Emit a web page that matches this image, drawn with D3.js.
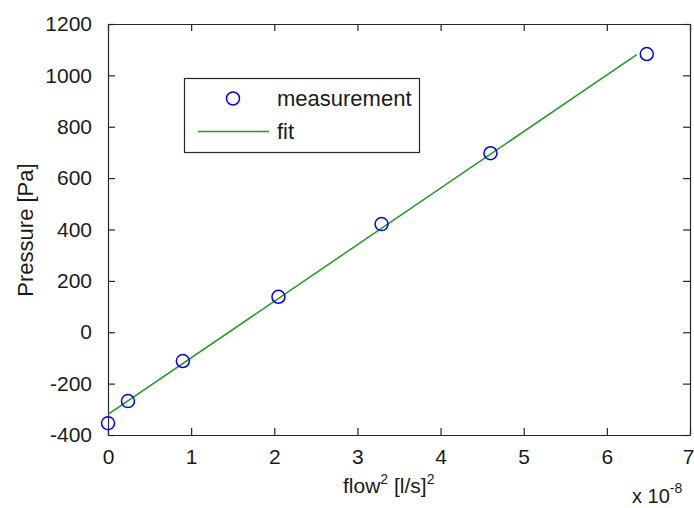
<!DOCTYPE html>
<html>
<head>
<meta charset="utf-8">
<script src="https://cdn.jsdelivr.net/npm/d3@7"></script>
<style>
html,body{margin:0;padding:0;background:#fff;}
svg{display:block;font-family:"Liberation Sans",Arial,sans-serif;}
</style>
</head>
<body>
<svg id="chart" width="694" height="508"></svg>
<script>
// Data (x in units of 1e-8 (l/s)^2, y in Pa)
const measX = [0.0, 0.24, 0.90, 2.05, 3.29, 4.60, 6.48];
const measY = [-354, -268, -112, 138, 421, 697, 1083];
const fitX = [0.0, 6.36];
const fitY = [-320, 1081];
const xTicks = [0, 1, 2, 3, 4, 5, 6, 7];
const yTicks = [-400, -200, 0, 200, 400, 600, 800, 1000, 1200];
const legendLabels = ["measurement", "fit"];

const svg = d3.select("#chart");
const m = {left: 108, top: 24, right: 690, bottom: 435};
const x = d3.scaleLinear().domain([0, 7]).range([m.left, m.right]);
const y = d3.scaleLinear().domain([-400, 1200]).range([m.bottom, m.top]);
const tickFont = 21;
const axisColor = "#262626";
const fmt = d => String(d);

// Axes (MATLAB-like box with inward ticks)
const gx = svg.append("g").attr("transform", `translate(0,${m.bottom})`)
  .call(d3.axisBottom(x).tickValues(xTicks).tickFormat(fmt).tickSize(-7).tickPadding(14).tickSizeOuter(0));
const gxTop = svg.append("g").attr("transform", `translate(0,${m.top})`)
  .call(d3.axisTop(x).tickValues(xTicks).tickSize(-7).tickFormat("").tickSizeOuter(0));
const gy = svg.append("g").attr("transform", `translate(${m.left},0)`)
  .call(d3.axisLeft(y).tickValues(yTicks).tickFormat(fmt).tickSize(-7).tickPadding(16).tickSizeOuter(0));
const gyR = svg.append("g").attr("transform", `translate(${m.right},0)`)
  .call(d3.axisRight(y).tickValues(yTicks).tickSize(-7).tickFormat("").tickSizeOuter(0));

[gx, gxTop, gy, gyR].forEach(g => {
  g.select(".domain").attr("stroke", axisColor).attr("stroke-width", 1.2);
  g.selectAll(".tick line").attr("stroke", axisColor).attr("stroke-width", 1.2);
  g.selectAll(".tick text").attr("fill", "#1a1a1a").style("font-size", tickFont + "px")
    .style("font-family", "'Liberation Sans', Arial, sans-serif");
});
gx.selectAll(".tick text").attr("dy", "0.71em");
gx.selectAll(".tick text").filter(d => d === 7).attr("text-anchor", "end").attr("dx", 4);

// Fit line
svg.append("path")
  .datum(fitX.map((d, i) => [d, fitY[i]]))
  .attr("d", d3.line().x(d => x(d[0])).y(d => y(d[1])))
  .attr("fill", "none").attr("stroke", "#1f9a1f").attr("stroke-width", 1.5);

// Measurement markers
svg.append("g").selectAll("circle")
  .data(measX.map((d, i) => [d, measY[i]]))
  .join("circle")
  .attr("cx", d => x(d[0])).attr("cy", d => y(d[1]))
  .attr("r", 6.5).attr("fill", "none").attr("stroke", "#0000ff").attr("stroke-width", 1.5);

// Legend
const lg = svg.append("g");
lg.append("rect").attr("x", 184.5).attr("y", 78.5).attr("width", 235).attr("height", 74)
  .attr("fill", "#fff").attr("stroke", axisColor).attr("stroke-width", 1.2);
lg.append("circle").attr("cx", 233).attr("cy", 98.5).attr("r", 6.5)
  .attr("fill", "none").attr("stroke", "#0000ff").attr("stroke-width", 1.5);
lg.append("line").attr("x1", 198).attr("x2", 269).attr("y1", 131.5).attr("y2", 131.5)
  .attr("stroke", "#1f9a1f").attr("stroke-width", 1.5);
lg.append("text").attr("x", 277).attr("y", 106).text(legendLabels[0])
  .style("font-size", "22px").attr("fill", "#1a1a1a");
lg.append("text").attr("x", 277).attr("y", 139).text(legendLabels[1])
  .style("font-size", "22px").attr("fill", "#1a1a1a");

// Axis labels
svg.append("text")
  .attr("transform", "translate(33,230) rotate(-90)")
  .attr("text-anchor", "middle")
  .style("font-size", "22px").attr("fill", "#1a1a1a")
  .text("Pressure [Pa]");

const xl = svg.append("text").attr("x", 343).attr("y", 493)
  .style("font-size", "21px").attr("fill", "#1a1a1a");
xl.append("tspan").text("flow");
xl.append("tspan").attr("dy", -9).style("font-size", "14px").text("2");
xl.append("tspan").attr("dy", 9).text(" [l/s]");
xl.append("tspan").attr("dy", -9).style("font-size", "14px").text("2");

const ex = svg.append("text").attr("x", 632).attr("y", 503)
  .style("font-size", "20px").attr("fill", "#1a1a1a");
ex.append("tspan").text("x 10");
ex.append("tspan").attr("dy", -10).style("font-size", "14px").text("-8");
</script>
</body>
</html>
